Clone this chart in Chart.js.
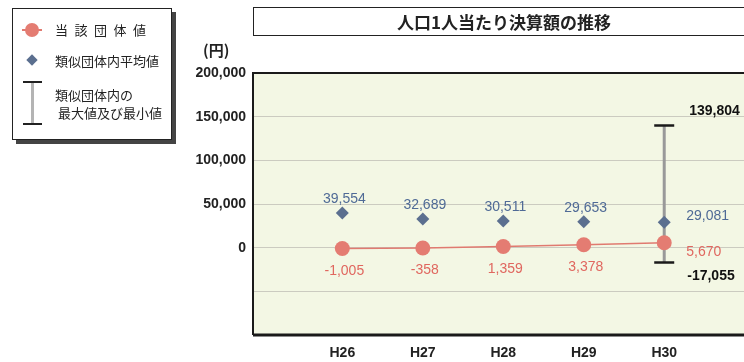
<!DOCTYPE html>
<html><head><meta charset="utf-8">
<script src="https://cdn.jsdelivr.net/npm/chart.js@4/dist/chart.umd.min.js"></script>
<style>
html,body{margin:0;padding:0;background:#fff;width:744px;height:362px;overflow:hidden;}
#wrap{position:relative;width:744px;height:362px;overflow:hidden;font-family:"Noto Sans CJK JP","Noto Sans",sans-serif;}
canvas{position:absolute;left:0;top:0;}
#title{position:absolute;left:253px;top:7px;width:500px;padding-right:20px;height:27px;border:1.5px solid #222;box-sizing:content-box;text-align:center;line-height:27px;font-weight:bold;font-size:17px;color:#222;}
#legend{position:absolute;left:12px;top:8px;width:158px;height:130px;border:1.5px solid #222;box-shadow:4px 4px 0 #444;background:#fff;}
.lt{position:absolute;font-size:13px;color:#222;white-space:nowrap;line-height:15px;}
#yunit{position:absolute;left:203px;top:39px;font-size:15px;font-weight:bold;color:#222;}
</style></head>
<body><div id="wrap">
<canvas id="c" width="758" height="362"></canvas>
<div id="title">人口1人当たり決算額の推移</div>
<div id="legend">
  <div style="position:absolute;left:9px;top:20px;width:20px;height:2px;background:#e07a70"></div>
  <div style="position:absolute;left:12px;top:14px;width:14px;height:14px;border-radius:7px;background:#e47c72"></div>
  <div class="lt" style="left:42px;top:13px;letter-spacing:6.5px;">当該団体値</div>
  <div style="position:absolute;left:15px;top:47px;width:8px;height:8px;background:#5b6f8f;transform:rotate(45deg)"></div>
  <div class="lt" style="left:42px;top:44px">類似団体内平均値</div>
  <div style="position:absolute;left:10px;top:72px;width:19px;height:2px;background:#222"></div>
  <div style="position:absolute;left:18px;top:74px;width:3px;height:40px;background:#b4b4b4"></div>
  <div style="position:absolute;left:10px;top:114px;width:19px;height:2px;background:#222"></div>
  <div class="lt" style="left:42px;top:78px">類似団体内の</div>
  <div class="lt" style="left:45px;top:96px">最大値及び最小値</div>
</div>
<div id="yunit">(円)</div>
</div>
<script>
const categories = ["H26", "H27", "H28", "H29", "H30"];
const ownValues = [-1005, -358, 1359, 3378, 5670];
const avgValues = [39554, 32689, 30511, 29653, 29081];
const maxValues = [null, null, null, null, 139804];
const minValues = [null, null, null, null, -17055];
const yTicks = [200000, 150000, 100000, 50000, 0];

const pts = arr => arr.map((v,i)=> v===null ? null : {x:i, y:v}).filter(p=>p);
const fmt = v => (v<0?"-":"") + Math.abs(v).toLocaleString("en-US");

const rangeData = [];
maxValues.forEach((v,i)=>{ if(v!==null){ rangeData.push({x:i,y:v}); rangeData.push({x:i,y:minValues[i]}); rangeData.push({x:NaN,y:NaN}); }});

const labelPlugin = {
  id:'labels',
  beforeDraw(chart){
    const {ctx, chartArea:a} = chart;
    ctx.save();
    ctx.fillStyle = '#f3f7e4';
    ctx.fillRect(a.left, a.top, 760-a.left, a.bottom-a.top);
    ctx.restore();
  },
  afterDraw(chart){
    const {ctx, chartArea:a, scales:{x,y}} = chart;
    ctx.save();
    ctx.strokeStyle = '#1a1a1a';
    ctx.lineWidth = 2;
    ctx.beginPath();
    ctx.moveTo(760, a.top); ctx.lineTo(a.left, a.top); ctx.lineTo(a.left, a.bottom);
    ctx.stroke();
    ctx.lineWidth = 3;
    ctx.beginPath(); ctx.moveTo(a.left, a.bottom); ctx.lineTo(760, a.bottom); ctx.stroke();
    ctx.font = '14px "Liberation Sans", Arial, sans-serif';
    const last = categories.length-1;
    avgValues.forEach((v,i)=>{
      const px = x.getPixelForValue(i), py = y.getPixelForValue(v);
      ctx.fillStyle = '#4f6a96';
      if(i===last){ ctx.textAlign='left'; ctx.textBaseline='middle'; ctx.fillText(fmt(v), px+22, py-6); }
      else { ctx.textAlign='center'; ctx.textBaseline='middle'; ctx.fillText(fmt(v), px+2, py-13.5); }
    });
    ownValues.forEach((v,i)=>{
      const px = x.getPixelForValue(i), py = y.getPixelForValue(v);
      ctx.fillStyle = '#e0675f';
      if(i===last){ ctx.textAlign='left'; ctx.textBaseline='middle'; ctx.fillText(fmt(v), px+22, py+9); }
      else { ctx.textAlign='center'; ctx.textBaseline='middle'; ctx.fillText(fmt(v), px+2, py+22.5); }
    });
    ctx.font = 'bold 14px "Liberation Sans", Arial, sans-serif';
    ctx.fillStyle = '#111';
    ctx.textAlign='left'; ctx.textBaseline='middle';
    maxValues.forEach((v,i)=>{ if(v!==null){ const px=x.getPixelForValue(i), py=y.getPixelForValue(v); ctx.fillText(fmt(v), px+25, py-14);} });
    minValues.forEach((v,i)=>{ if(v!==null){ const px=x.getPixelForValue(i), py=y.getPixelForValue(v); ctx.fillText(fmt(v), px+23, py+14);} });
    ctx.restore();
  }
};

new Chart(document.getElementById('c'), {
  type:'scatter',
  data:{ datasets:[
    { label:'当該団体値', data:pts(ownValues), showLine:true, borderColor:'#e07a70', borderWidth:1.5,
      pointRadius:7.5, pointBackgroundColor:'#e47c72', pointBorderWidth:0, order:0 },
    { label:'類似団体内平均値', data:pts(avgValues), showLine:false, pointStyle:'rectRot', pointRadius:6.5,
      pointBackgroundColor:'#5b6f8f', pointBorderWidth:0, order:1 },
    { label:'caps', data:[...pts(maxValues), ...pts(minValues)], showLine:false, pointStyle:'line', pointRadius:10,
      borderColor:'#1a1a1a', pointBorderColor:'#1a1a1a', pointBorderWidth:2.5, order:2 },
    { label:'range', data:rangeData, showLine:true, spanGaps:false, borderColor:'#999999', borderWidth:3, pointRadius:0, order:3 }
  ]},
  options:{
    responsive:false, devicePixelRatio:1, animation:false,
    layout:{padding:{left:0, top:73, right:0, bottom:0}},
    plugins:{legend:{display:false}, title:{display:false}, tooltip:{enabled:false}},
    scales:{
      x:{ type:'linear', min:-1.11, max:5.01,
        afterBuildTicks(s){ s.ticks = categories.map((c,i)=>({value:i})); },
        afterFit(s){ s.height = 27; },
        grid:{display:false, drawTicks:false}, border:{display:false},
        ticks:{ padding:10, autoSkip:false, maxRotation:0, color:'#222',
          font:{size:14, weight:'bold', family:'"Liberation Sans", Arial, sans-serif'},
          callback:(v)=>categories[v] }
      },
      y:{ min:-100000, max:200000,
        afterBuildTicks(s){ s.ticks = [200000,150000,100000,50000,0,-50000,-100000].map(v=>({value:v})); },
        afterFit(s){ s.width = 253; },
        grid:{color:'#cbcbc0', lineWidth:1, drawTicks:false}, border:{display:false},
        ticks:{ padding:7, color:'#222', font:{size:14, weight:'bold', family:'"Liberation Sans", Arial, sans-serif'},
          callback:(v)=> yTicks.includes(v) ? v.toLocaleString('en-US') : '' }
      }
    }
  },
  plugins:[labelPlugin]
});
</script>
</body></html>
